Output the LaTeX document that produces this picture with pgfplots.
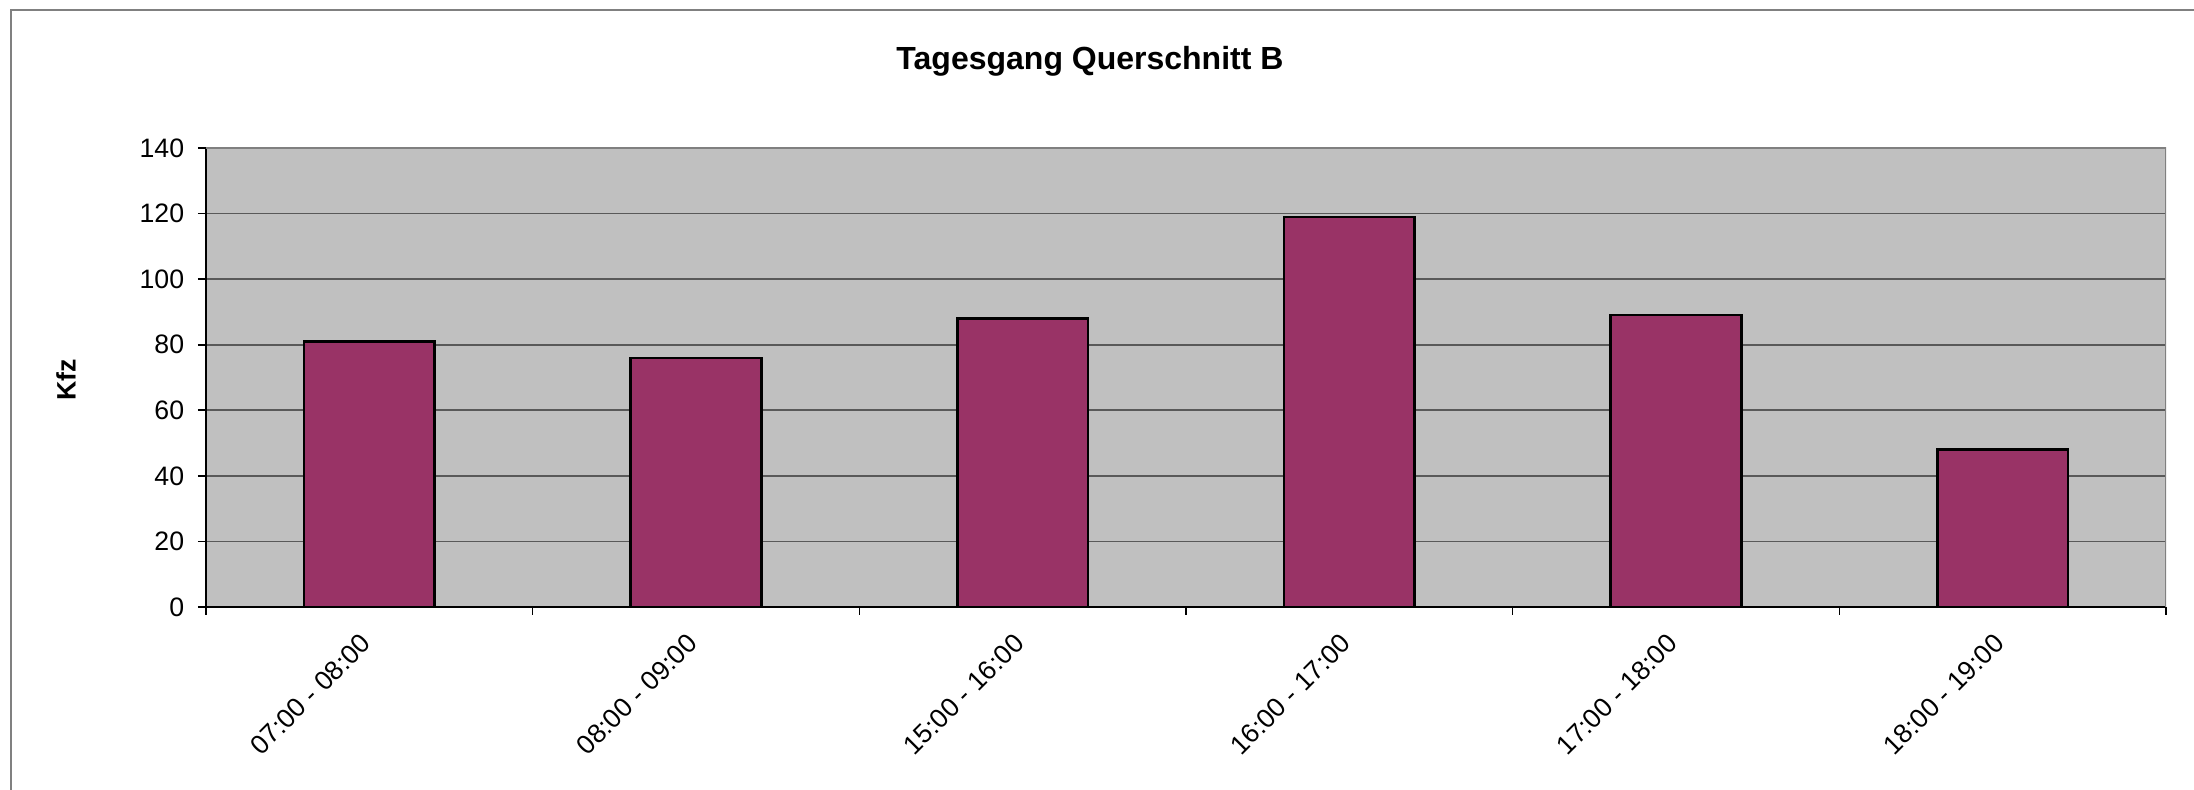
\documentclass[border=0pt]{standalone}
\usepackage{fontspec}
\setmainfont{Liberation Sans}
\usepackage{pgfplots}
\pgfplotsset{compat=1.18}
\definecolor{barfill}{RGB}{153,51,102}
\definecolor{plotbg}{RGB}{192,192,192}
\definecolor{framegray}{RGB}{128,128,128}
\begin{document}
\begin{tikzpicture}
\useasboundingbox (0,0) rectangle (822.75pt,296.25pt);
\draw[framegray, line width=0.75pt] (4.125pt,-5pt) -- (4.125pt,292.5pt) -- (830pt,292.5pt);
\begin{axis}[
  at={(77.25pt,68.625pt)}, anchor=south west,
  width=735pt, height=172.125pt, scale only axis,
  xmin=-0.5, xmax=5.5, ymin=0, ymax=140,
  ytick={0,20,...,140},
  xtick={0,...,5},
  xticklabels={07:00 - 08:00, 08:00 - 09:00, 15:00 - 16:00, 16:00 - 17:00, 17:00 - 18:00, 18:00 - 19:00},
  minor xtick={-0.5,0.5,...,5.5},
  major x tick style={draw=none},
  tick align=outside,
  axis lines*=left,
  axis line style={black, line width=0.75pt},
  major tick length=3pt, minor tick length=3pt,
  every tick/.style={black, line width=0.6pt},
  ymajorgrids,
  grid style={black!65, line width=0.6pt},
  axis background/.style={fill=plotbg},
  ybar, bar width=49pt,
  ticklabel style={font=\fontsize{10}{12}\selectfont},
  /pgf/number format/assume math mode=true,
  xticklabel style={xshift=-1.2pt, yshift=-8.8pt, rotate=45, anchor=east, inner sep=0pt},
  yticklabel style={anchor=east, inner sep=0pt, xshift=-5pt},
]
\addplot[fill=barfill, draw=black, line width=0.9pt] coordinates {(0,81) (1,76) (2,88) (3,119) (4,89) (5,48)};
\draw[framegray, line width=1pt] (rel axis cs:0,1) -- (rel axis cs:1,1) -- (rel axis cs:1,0);
\end{axis}
\node[font=\bfseries\fontsize{12}{14}\selectfont, anchor=base] at (408.75pt,270pt) {Tagesgang Querschnitt B};
\node[font=\bfseries\fontsize{10}{12}\selectfont, rotate=90] at (24.75pt,153.75pt) {Kfz};
\end{tikzpicture}
\end{document}
